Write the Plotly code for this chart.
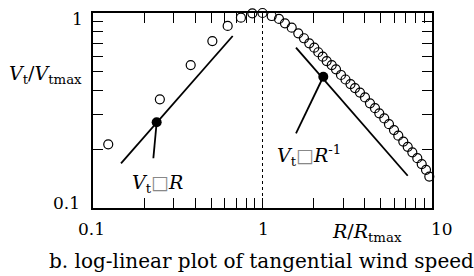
import plotly.graph_objects as go

# Observed profile (open circles)
r_obs = [0.123, 0.248, 0.377, 0.506, 0.623, 0.746, 0.871, 1.0,
         1.133, 1.251, 1.357, 1.487, 1.626, 1.757, 1.888, 2.021, 2.134, 2.266,
         2.392, 2.561, 2.714, 2.905, 3.088, 3.306, 3.513, 3.760, 4.024, 4.307,
         4.609, 4.887, 5.231, 5.575, 5.968, 6.327, 6.771, 7.189, 7.654, 8.190,
         8.696, 9.218, 9.641]
v_obs = [0.212, 0.361, 0.541, 0.718, 0.858, 0.946, 0.996, 1.0,
         0.965, 0.932, 0.885, 0.841, 0.787, 0.742, 0.699, 0.664, 0.629, 0.597,
         0.567, 0.541, 0.514, 0.481, 0.456, 0.432, 0.412, 0.391, 0.369, 0.344,
         0.325, 0.306, 0.288, 0.269, 0.251, 0.235, 0.219, 0.206, 0.193, 0.180,
         0.168, 0.157, 0.145]

# Reference slopes
r_inner = [0.1463, 0.667]
v_inner = [0.1695, 0.762]
r_outer = [1.576, 7.19]
v_outer = [0.664, 0.1464]

# Label pointers (dot then pointer end)
r_ptr1 = [0.2375, 0.227]
v_ptr1 = [0.275, 0.18]
r_ptr2 = [2.284, 1.576]
v_ptr2 = [0.471, 0.2416]

r_rmax = [1.0, 1.0]
v_rmax = [0.1, 1.0]

minor_x = [0.1, 0.2, 0.3, 0.4, 0.5, 0.6, 0.7, 0.8, 0.9, 1, 2, 3, 4, 5, 6, 7, 8, 9, 10]
minor_y = [0.1, 0.2, 0.3, 0.4, 0.5, 0.6, 0.7, 0.8, 0.9, 1]

FONT = "DejaVu Serif"

fig = go.Figure()
fig.add_trace(go.Scatter(x=r_rmax, y=v_rmax, mode="lines",
                         line=dict(color="black", width=1, dash="dot"), hoverinfo="skip"))
fig.add_trace(go.Scatter(x=r_inner, y=v_inner, mode="lines",
                         line=dict(color="black", width=1.8)))
fig.add_trace(go.Scatter(x=r_outer, y=v_outer, mode="lines",
                         line=dict(color="black", width=1.8)))
fig.add_trace(go.Scatter(x=r_ptr1, y=v_ptr1, mode="lines",
                         line=dict(color="black", width=1.8)))
fig.add_trace(go.Scatter(x=r_ptr2, y=v_ptr2, mode="lines",
                         line=dict(color="black", width=1.8)))
fig.add_trace(go.Scatter(x=[r_ptr1[0], r_ptr2[0]], y=[v_ptr1[0], v_ptr2[0]], mode="markers",
                         marker=dict(color="black", size=10)))
fig.add_trace(go.Scatter(x=r_obs, y=v_obs, mode="markers", cliponaxis=False,
                         marker=dict(symbol="circle-open", color="black", size=9,
                                     line=dict(width=1.2, color="black"))))

axis_common = dict(type="log", showgrid=False, zeroline=False, showline=True,
                   linecolor="black", linewidth=1.5, mirror="ticks", ticks="inside",
                   ticklen=10, tickwidth=1, tickcolor="black", showticklabels=False,
                   tickmode="array")
fig.update_xaxes(range=[-1, 1], tickvals=minor_x, **axis_common)
fig.update_yaxes(range=[-1, 0], tickvals=minor_y, **axis_common)


def pap(px, py):
    return (px - 93) / 339.0, (208 - py) / 195.0


def ann(text, px, py, size=19, color="black", family=FONT):
    x, y = pap(px, py)
    fig.add_annotation(text=text, x=x, y=y, xref="paper", yref="paper",
                       xanchor="center", yanchor="middle", showarrow=False,
                       font=dict(family=family, size=size, color=color))


ann("<i>V</i><sub>t</sub>/<i>V</i><sub>tmax</sub>", 45, 74)
ann("1", 77, 19, size=17)
ann("0.1", 66, 203, size=17)
ann("0.1", 91.5, 229, size=17)
ann("1", 263, 229, size=17)
ann("10", 441.7, 229, size=17)
ann("<i>R</i>/<i>R</i><sub>tmax</sub>", 367, 232)
ann("b. log-linear plot of tangential wind speed", 261.5, 261, size=20)
ann("<i>V</i><sub>t</sub><span style='color:#888'>□</span><i>R</i>", 157, 183)
ann("<i>V</i><sub>t</sub><span style='color:#888'>□</span><i>R</i><sup>-1</sup>", 309, 155)

fig.update_layout(width=474, height=276, margin=dict(l=93, r=42, t=13, b=68),
                  paper_bgcolor="white", plot_bgcolor="white", showlegend=False,
                  font=dict(family=FONT, color="black"))

fig.write_html("out.html", config={"displayModeBar": False},
               post_script="document.body.style.margin='0';document.body.style.padding='0';")
